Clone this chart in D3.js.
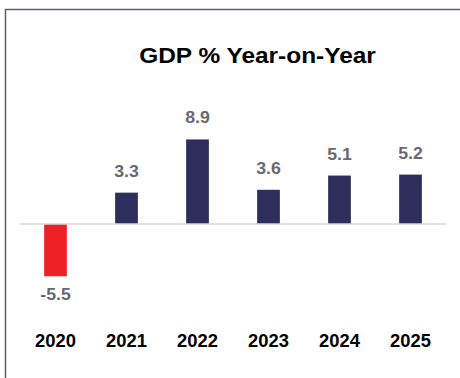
<!DOCTYPE html>
<html>
<head>
<meta charset="utf-8">
<script src="https://cdn.jsdelivr.net/npm/d3@7"></script>
<style>
  html, body { margin: 0; padding: 0; background: #ffffff; }
  svg { display: block; }
  text { font-family: "Liberation Sans", Arial, Helvetica, sans-serif; font-weight: bold; }
</style>
</head>
<body>
<svg id="chart" width="460" height="378"></svg>
<script>
// GDP growth, percent change year-on-year
const years = ["2020", "2021", "2022", "2023", "2024", "2025"];
const growth = [-5.5, 3.3, 8.9, 3.6, 5.1, 5.2];
const valueLabels = ["-5.5", "3.3", "8.9", "3.6", "5.1", "5.2"];
const chartTitle = "GDP % Year-on-Year";

const svg = d3.select("#chart");
const W = 460, H = 378;

// set the text slightly wider than the font's natural advance
function widen(sel, k) {
  sel.each(function () {
    const len = this.getComputedTextLength();
    d3.select(this)
      .attr("textLength", len * k)
      .attr("lengthAdjust", "spacingAndGlyphs");
  });
}

// panel frame (open to the right and bottom edges)
svg.append("rect")
  .attr("x", 5.5).attr("y", 9.5)
  .attr("width", W).attr("height", H)
  .attr("fill", "#ffffff")
  .attr("stroke", "#5b5b84")
  .attr("stroke-width", 1.5);

const x = d3.scaleBand()
  .domain(years)
  .range([20, 446])
  .paddingInner(0.68)
  .paddingOuter(0.34);

const y = d3.scaleLinear()
  .domain([-6, 10])
  .range([224 + 6 * 9.5, 224 - 10 * 9.5]);

// title
svg.append("text")
  .attr("x", 257.5).attr("y", 63)
  .attr("text-anchor", "middle")
  .attr("font-size", 22)
  .attr("fill", "#000000")
  .text(chartTitle)
  .call(widen, 1.11);

const data = years.map((yr, i) => ({ year: yr, v: growth[i], label: valueLabels[i] }));

// bars
svg.append("g").selectAll("rect")
  .data(data)
  .join("rect")
  .attr("x", d => x(d.year))
  .attr("width", x.bandwidth())
  .attr("y", d => y(Math.max(0, d.v)))
  .attr("height", d => Math.abs(y(d.v) - y(0)))
  .attr("fill", d => d.v < 0 ? "#ee2226" : "#2d2e5c");

// zero line
svg.append("line")
  .attr("x1", x.range()[0]).attr("x2", x.range()[1])
  .attr("y1", y(0)).attr("y2", y(0))
  .attr("stroke", "#d9d9d9")
  .attr("stroke-width", 1.6);

// value labels
svg.append("g").selectAll("text")
  .data(data)
  .join("text")
  .attr("x", d => x(d.year) + x.bandwidth() / 2)
  .attr("y", d => d.v >= 0 ? y(d.v) - 16 : y(d.v) + 23.5)
  .attr("text-anchor", "middle")
  .attr("font-size", 17)
  .attr("fill", "#68686f")
  .text(d => d.label)
  .call(widen, 1.04);

// category axis labels
const xAxis = d3.axisBottom(x).tickSize(0).tickPadding(0);
const axisG = svg.append("g")
  .attr("transform", "translate(0,335)")
  .call(xAxis);
axisG.select(".domain").remove();
axisG.selectAll("text")
  .attr("font-size", 17.5)
  .attr("font-family", "\"Liberation Sans\", Arial, Helvetica, sans-serif")
  .attr("font-weight", "bold")
  .attr("fill", "#000000")
  .attr("dy", "0.71em")
  .call(widen, 1.05);
</script>
</body>
</html>
